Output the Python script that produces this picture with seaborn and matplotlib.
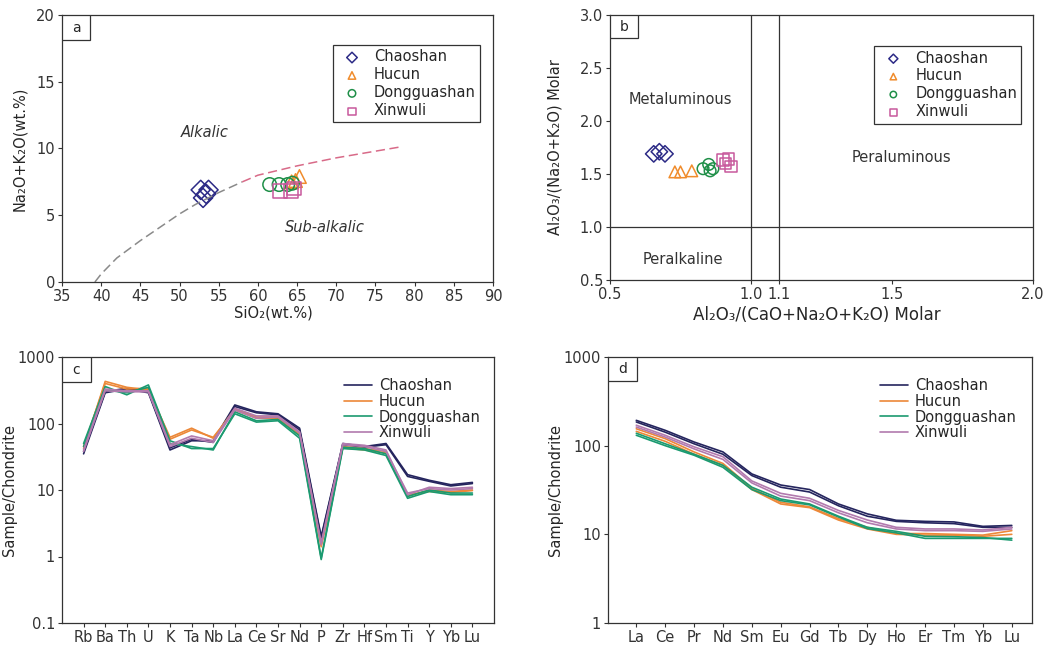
"""Four-panel geochemistry figure: TAS, A/NK vs A/CNK, spider and REE diagrams."""

import matplotlib.pyplot as plt
import matplotlib.ticker as mticker
import pandas as pd
import seaborn as sns
from matplotlib.patches import Rectangle

sns.set_theme(style='ticks')
plt.rcParams['font.family'] = ['DejaVu Sans']
plt.rcParams['axes.edgecolor'] = '#333333'
plt.rcParams['axes.linewidth'] = 0.9
plt.rcParams['xtick.color'] = '#333333'
plt.rcParams['ytick.color'] = '#333333'

GROUPS = ['Chaoshan', 'Hucun', 'Dongguashan', 'Xinwuli']
PT_COLORS = {'Chaoshan': '#2c2a86', 'Hucun': '#f08c2c', 'Dongguashan': '#1f8f48', 'Xinwuli': '#c8589c'}
LN_COLORS = {'Chaoshan': '#25255e', 'Hucun': '#ec8838', 'Dongguashan': '#1b9a70', 'Xinwuli': '#b27aae'}
MARKERS = {'Chaoshan': 'D', 'Hucun': '^', 'Dongguashan': 'o', 'Xinwuli': 's'}

# (a) TAS
tas_sio2 = {
    'Chaoshan': [52.7, 53.7, 53.0, 53.4],
    'Hucun': [64.8, 65.3, 64.3],
    'Dongguashan': [61.5, 62.7, 63.8, 64.4],
    'Xinwuli': [62.8, 64.2, 64.6],
}
tas_alk = {
    'Chaoshan': [6.9, 6.9, 6.3, 6.6],
    'Hucun': [7.6, 7.9, 7.5],
    'Dongguashan': [7.3, 7.3, 7.3, 7.4],
    'Xinwuli': [6.8, 6.8, 7.0],
}
bound_low_x = [39.2, 40, 42, 45, 48, 50, 52, 55, 58]
bound_low_y = [0.0, 0.6, 1.8, 3.1, 4.3, 5.1, 5.8, 6.7, 7.5]
bound_up_x = [58, 60, 65, 70, 75, 78]
bound_up_y = [7.5, 8.0, 8.7, 9.3, 9.8, 10.1]

# (b) A/NK vs A/CNK
acnk = {
    'Chaoshan': [0.655, 0.675, 0.695],
    'Hucun': [0.73, 0.75, 0.79],
    'Dongguashan': [0.83, 0.85, 0.865, 0.855],
    'Xinwuli': [0.90, 0.92, 0.93, 0.91],
}
ank = {
    'Chaoshan': [1.69, 1.71, 1.69],
    'Hucun': [1.52, 1.52, 1.53],
    'Dongguashan': [1.55, 1.59, 1.55, 1.53],
    'Xinwuli': [1.63, 1.64, 1.57, 1.60],
}

# (c) spider diagram
spider_elems = ['Rb', 'Ba', 'Th', 'U', 'K', 'Ta', 'Nb', 'La', 'Ce', 'Sr', 'Nd', 'P',
                'Zr', 'Hf', 'Sm', 'Ti', 'Y', 'Yb', 'Lu']
spider = {
    'Chaoshan': [
        [35, 290, 330, 290, 40, 55, 55, 190, 150, 140, 85, 2.0, 50, 45, 50, 17, 14, 12, 13],
        [38, 300, 340, 300, 43, 58, 52, 180, 145, 135, 80, 1.9, 48, 44, 48, 16, 13.5, 11.5, 12.5],
    ],
    'Hucun': [
        [42, 430, 350, 320, 62, 85, 60, 165, 125, 125, 70, 1.5, 45, 42, 38, 8, 10, 9.5, 10],
        [45, 400, 330, 340, 58, 80, 62, 160, 120, 120, 68, 1.4, 43, 40, 36, 8.5, 9.5, 9.2, 9.8],
    ],
    'Dongguashan': [
        [50, 360, 270, 380, 55, 42, 42, 140, 105, 110, 60, 0.9, 42, 40, 33, 7.5, 9.5, 8.5, 8.5],
        [45, 320, 290, 350, 50, 45, 40, 150, 110, 115, 65, 0.95, 44, 42, 35, 8, 10, 9, 9],
    ],
    'Xinwuli': [
        [40, 330, 310, 310, 48, 65, 55, 170, 130, 130, 75, 1.6, 50, 47, 40, 8.5, 11, 10.5, 11],
        [38, 310, 300, 300, 45, 60, 52, 160, 120, 125, 72, 1.5, 48, 45, 38, 9, 10.5, 10, 10.5],
    ],
}

# (d) REE
ree_elems = ['La', 'Ce', 'Pr', 'Nd', 'Sm', 'Eu', 'Gd', 'Tb', 'Dy', 'Ho', 'Er', 'Tm', 'Yb', 'Lu']
ree = {
    'Chaoshan': [
        [193, 149, 110, 85, 48, 36, 32, 22, 17, 14.4, 14, 13.8, 12.3, 12.6],
        [185, 142, 105, 80, 46, 34, 30, 21, 16, 14, 13.5, 13.2, 12, 12],
    ],
    'Hucun': [
        [155, 120, 85, 63, 33, 23, 20.4, 15, 12, 10.2, 10.2, 10, 9.8, 11],
        [145, 112, 80, 60, 32, 22, 20, 14.5, 11.5, 10, 9.8, 9.8, 9.5, 10],
    ],
    'Dongguashan': [
        [131, 100, 78, 57, 32, 24, 21.5, 15.7, 11.6, 10.4, 9.0, 9, 9, 9],
        [138, 105, 80, 60, 34, 25, 22, 16, 12, 10.8, 9.5, 9.4, 9.2, 8.6],
    ],
    'Xinwuli': [
        [170, 131, 97, 75, 40, 29, 25.5, 18.6, 14.5, 12, 11.5, 11.5, 11.2, 12],
        [162, 125, 92, 70, 38, 27, 24, 17.5, 13.5, 11.5, 11, 11, 10.8, 11.5],
    ],
}

W, H = 1055, 648


def _axes(fig, left, top, right, bottom):
    return fig.add_axes([left / W, 1 - bottom / H, (right - left) / W, (bottom - top) / H])


def _panel_label(ax, text, w, h):
    ax.add_patch(Rectangle((0, 1 - h), w, h, transform=ax.transAxes, facecolor='white',
                           edgecolor='#333333', lw=0.9, zorder=5))
    ax.text(w / 2, 1 - h / 2, text, transform=ax.transAxes, ha='center', va='center',
            fontsize=10, zorder=6)


def _tick_style(ax):
    ax.tick_params(direction='out', length=3, width=0.8, labelsize=10.5, pad=2)


def _long(values, elems):
    rows = []
    for g in GROUPS:
        for i, sample in enumerate(values[g]):
            for j, v in enumerate(sample):
                rows.append({'group': g, 'sample': f'{g}{i}', 'pos': j, 'val': v})
    return pd.DataFrame(rows)


fig = plt.figure(figsize=(W / 100, H / 100), dpi=100)

# ---- a
ax = _axes(fig, 62, 15, 493, 282)
ax.plot(bound_low_x, bound_low_y, ls=(0, (6, 3)), color='#8a8a8a', lw=1.1)
ax.plot(bound_up_x, bound_up_y, ls=(0, (6, 3)), color='#d86a88', lw=1.1)
for g in GROUPS:
    sns.scatterplot(x=tas_sio2[g], y=tas_alk[g], marker=MARKERS[g], s=95, color=PT_COLORS[g],
                    facecolor='none', edgecolor=PT_COLORS[g], linewidth=1.1, label=g, ax=ax)
ax.set_xlim(35, 90)
ax.set_ylim(0, 20)
ax.set_xticks(range(35, 91, 5))
ax.set_yticks([0, 5, 10, 15, 20])
_tick_style(ax)
ax.text(53.2, 11.2, 'Alkalic', style='italic', fontsize=10.5, ha='center', va='center', color='#333333')
ax.text(68.6, 4.1, 'Sub-alkalic', style='italic', fontsize=10.5, ha='center', va='center', color='#333333')
ax.set_xlabel('SiO₂(wt.%)', fontsize=10.5)
ax.set_ylabel('Na₂O+K₂O(wt.%)', fontsize=10.5)
ax.xaxis.set_label_coords(0.49, -0.088)
ax.yaxis.set_label_coords(-0.082, 0.5)
leg = ax.legend(loc='upper right', bbox_to_anchor=(0.987, 0.915), fontsize=10.5, frameon=True,
                fancybox=False, edgecolor='#333333', framealpha=1, handletextpad=0.5,
                labelspacing=0.2, borderpad=0.3, markerscale=0.55)
leg.get_frame().set_linewidth(0.9)
_panel_label(ax, 'a', 0.065, 0.094)

# ---- b
ax = _axes(fig, 610, 15, 1033, 280)
ax.axvline(1.0, color='#333333', lw=0.9)
ax.axvline(1.1, color='#333333', lw=0.9)
ax.axhline(1.0, color='#333333', lw=0.9)
for g in GROUPS:
    sns.scatterplot(x=acnk[g], y=ank[g], marker=MARKERS[g], s=70, color=PT_COLORS[g],
                    facecolor='none', edgecolor=PT_COLORS[g], linewidth=1.1, label=g, ax=ax)
ax.set_xlim(0.5, 2.0)
ax.set_ylim(0.5, 3.0)
ax.set_xticks([0.5, 1.0, 1.1, 1.5, 2.0])
ax.set_xticklabels(['0.5', '1.0', '1.1', '1.5', '2.0'])
ax.set_yticks([0.5, 1.0, 1.5, 2.0, 2.5, 3.0])
ax.set_yticklabels(['0.5', '1.0', '1.5', '2.0', '2.5', '3.0'])
_tick_style(ax)
ax.text(0.75, 2.2, 'Metaluminous', fontsize=10.5, ha='center', va='center', color='#333333')
ax.text(1.535, 1.66, 'Peraluminous', fontsize=10.5, ha='center', va='center', color='#333333')
ax.text(0.76, 0.69, 'Peralkaline', fontsize=10.5, ha='center', va='center', color='#333333')
ax.set_xlabel('Al₂O₃/(CaO+Na₂O+K₂O) Molar', fontsize=12)
ax.set_ylabel('Al₂O₃/(Na₂O+K₂O) Molar', fontsize=10.5)
ax.xaxis.set_label_coords(0.49, -0.1)
ax.yaxis.set_label_coords(-0.113, 0.5)
leg = ax.legend(loc='upper right', bbox_to_anchor=(0.99, 0.91), fontsize=10.5, frameon=True,
                fancybox=False, edgecolor='#333333', framealpha=1, handletextpad=0.5,
                labelspacing=0.2, borderpad=0.3, markerscale=0.55)
leg.get_frame().set_linewidth(0.9)
_panel_label(ax, 'b', 0.066, 0.087)

# ---- c
ax = _axes(fig, 62, 357, 494, 623)
df_c = _long(spider, spider_elems)
sns.lineplot(data=df_c, x='pos', y='val', hue='group', units='sample', estimator=None,
             palette=LN_COLORS, hue_order=GROUPS, lw=1.2, ax=ax)
ax.set_yscale('log')
ax.set_xlim(-1, 19)
ax.set_ylim(0.1, 1000)
ax.set_xticks(range(len(spider_elems)))
ax.set_xticklabels(spider_elems)
ax.yaxis.set_major_locator(mticker.FixedLocator([0.1, 1, 10, 100, 1000]))
ax.yaxis.set_major_formatter(mticker.FixedFormatter(['0.1', '1', '10', '100', '1000']))
ax.yaxis.set_minor_locator(mticker.NullLocator())
_tick_style(ax)
ax.set_xlabel('')
ax.set_ylabel('Sample/Chondrite', fontsize=10.5)
ax.yaxis.set_label_coords(-0.104, 0.5)
ax.legend(loc='upper right', bbox_to_anchor=(1.0, 0.97), fontsize=10.5, frameon=False,
          handlelength=1.9, handletextpad=0.5, labelspacing=0.05)
_panel_label(ax, 'c', 0.067, 0.094)

# ---- d
ax = _axes(fig, 608, 357, 1032, 623)
df_d = _long(ree, ree_elems)
sns.lineplot(data=df_d, x='pos', y='val', hue='group', units='sample', estimator=None,
             palette=LN_COLORS, hue_order=GROUPS, lw=1.2, ax=ax)
ax.set_yscale('log')
ax.set_xlim(-0.98, 13.7)
ax.set_ylim(1, 1000)
ax.set_xticks(range(len(ree_elems)))
ax.set_xticklabels(ree_elems)
ax.yaxis.set_major_locator(mticker.FixedLocator([1, 10, 100, 1000]))
ax.yaxis.set_major_formatter(mticker.FixedFormatter(['1', '10', '100', '1000']))
ax.yaxis.set_minor_locator(mticker.NullLocator())
_tick_style(ax)
ax.set_xlabel('')
ax.set_ylabel('Sample/Chondrite', fontsize=10.5)
ax.yaxis.set_label_coords(-0.106, 0.5)
ax.legend(loc='upper right', bbox_to_anchor=(0.995, 0.97), fontsize=10.5, frameon=False,
          handlelength=1.9, handletextpad=0.5, labelspacing=0.05)
_panel_label(ax, 'd', 0.068, 0.09)

fig.savefig('out.png', dpi=100)
